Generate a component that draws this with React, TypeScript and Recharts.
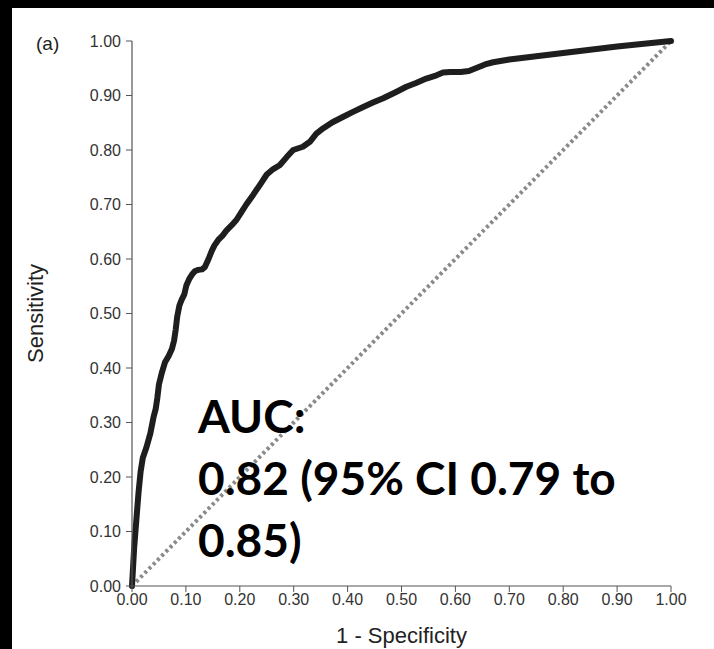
import React from "react";
import { LineChart, Line, XAxis, YAxis, Label } from "recharts";

// ROC curve: 1 - specificity (x) and sensitivity (y)
const rocFpr = [
  0, 0.004, 0.008, 0.012, 0.016, 0.02, 0.027, 0.034, 0.04, 0.044, 0.047, 0.05,
  0.055, 0.061, 0.068, 0.074, 0.078, 0.081, 0.084, 0.088, 0.092, 0.097, 0.101,
  0.106, 0.111, 0.117, 0.123, 0.13, 0.135, 0.142, 0.148, 0.153, 0.16, 0.168,
  0.175, 0.185, 0.194, 0.203, 0.212, 0.225, 0.238, 0.25, 0.262, 0.274, 0.287,
  0.299, 0.317, 0.33, 0.342, 0.355, 0.372, 0.392, 0.41, 0.429, 0.447, 0.466,
  0.491, 0.509, 0.527, 0.546, 0.565, 0.577, 0.59, 0.61, 0.625, 0.64, 0.655,
  0.67, 0.7, 0.75, 0.8, 0.85, 0.9, 0.95, 1.0,
];
const rocTpr = [
  0, 0.07, 0.12, 0.17, 0.21, 0.235, 0.255, 0.28, 0.31, 0.325, 0.345, 0.37,
  0.39, 0.41, 0.422, 0.435, 0.45, 0.47, 0.495, 0.515, 0.525, 0.535, 0.552,
  0.563, 0.571, 0.578, 0.58, 0.581, 0.585, 0.6, 0.615, 0.625, 0.635, 0.643,
  0.652, 0.662, 0.672, 0.686, 0.7, 0.718, 0.737, 0.755, 0.765, 0.772, 0.787,
  0.8, 0.806, 0.815, 0.83, 0.84, 0.851, 0.861, 0.87, 0.879, 0.887, 0.895,
  0.907, 0.916, 0.923, 0.931, 0.937, 0.942, 0.943, 0.943, 0.945, 0.951, 0.957,
  0.961, 0.966, 0.972, 0.978, 0.984, 0.99, 0.995, 1.0,
];

// chance line
const chanceX = [0, 1];
const chanceY = [0, 1];

const ticks = [0, 0.1, 0.2, 0.3, 0.4, 0.5, 0.6, 0.7, 0.8, 0.9, 1];

const aucLines = ["AUC:", "0.82 (95% CI 0.79 to", "0.85)"];

const rocData = rocFpr.map((x, i) => ({ x, y: rocTpr[i] }));
const chanceData = chanceX.map((x, i) => ({ x, y: chanceY[i] }));

const SANS = "'Liberation Sans', Arial, sans-serif";
const NARROW = "'Liberation Sans Narrow', 'Liberation Sans', Arial, sans-serif";

export default function App() {
  return (
    <div
      style={{
        position: "fixed",
        left: 0,
        top: 0,
        width: 714,
        height: 649,
        background: "#000",
        overflow: "hidden",
      }}
    >
      {/* white figure panel (black frame on top/left like the screenshot) */}
      <div
        style={{
          position: "absolute",
          left: 12,
          top: 8,
          right: 0,
          bottom: 0,
          background: "#fff",
        }}
      />
      <div style={{ position: "absolute", left: 0, top: 0 }}>
        <LineChart
          width={714}
          height={649}
          margin={{ top: 41, right: 43, bottom: 0, left: 0 }}
        >
          <XAxis
            dataKey="x"
            type="number"
            domain={[0, 1]}
            ticks={ticks}
            tickFormatter={(v) => Number(v).toFixed(2)}
            height={63}
            tickSize={6}
            axisLine={{ stroke: "#555", strokeWidth: 1.2 }}
            tickLine={{ stroke: "#555" }}
            tick={{ fill: "#333", fontSize: 16, fontFamily: NARROW }}
          >
            <Label
              value="1 - Specificity"
              position="insideBottom"
              offset={6}
              style={{ fill: "#222", fontSize: 22, fontFamily: SANS }}
            />
          </XAxis>
          <YAxis
            type="number"
            domain={[0, 1]}
            ticks={ticks}
            tickFormatter={(v) => Number(v).toFixed(2)}
            width={132}
            tickSize={6}
            tickMargin={5}
            axisLine={{ stroke: "#555", strokeWidth: 1.2 }}
            tickLine={{ stroke: "#555" }}
            tick={{ fill: "#333", fontSize: 16, fontFamily: SANS }}
          >
            <Label
              content={(props: any) => {
                const vb = props.viewBox || { x: 0, y: 41, height: 545 };
                const cy = vb.y + vb.height / 2;
                const cx = 35;
                return (
                  <text
                    x={cx}
                    y={cy}
                    transform={`rotate(-90 ${cx} ${cy})`}
                    textAnchor="middle"
                    dominantBaseline="central"
                    style={{ fill: "#222", fontSize: 22, fontFamily: SANS }}
                  >
                    Sensitivity
                  </text>
                );
              }}
            />
          </YAxis>
          <Line
            data={chanceData}
            dataKey="y"
            type="linear"
            stroke="#8a8a8a"
            strokeWidth={4}
            strokeDasharray="3 3"
            dot={false}
            isAnimationActive={false}
          />
          <Line
            data={rocData}
            dataKey="y"
            type="linear"
            stroke="#1e1e1e"
            strokeWidth={6}
            strokeLinejoin="round"
            strokeLinecap="round"
            dot={false}
            isAnimationActive={false}
          />
        </LineChart>
      </div>

      <div
        style={{
          position: "absolute",
          left: 36,
          top: 33,
          fontFamily: SANS,
          fontSize: 19,
          color: "#222",
        }}
      >
        (a)
      </div>

      <div
        style={{
          position: "absolute",
          left: 198,
          top: 385,
          fontFamily: "Lato, 'Open Sans', sans-serif",
          fontWeight: 700,
          fontSize: 46,
          lineHeight: "62px",
          color: "#000",
          whiteSpace: "nowrap",
        }}
      >
        {aucLines.map((t) => (
          <div key={t}>{t}</div>
        ))}
      </div>
    </div>
  );
}
